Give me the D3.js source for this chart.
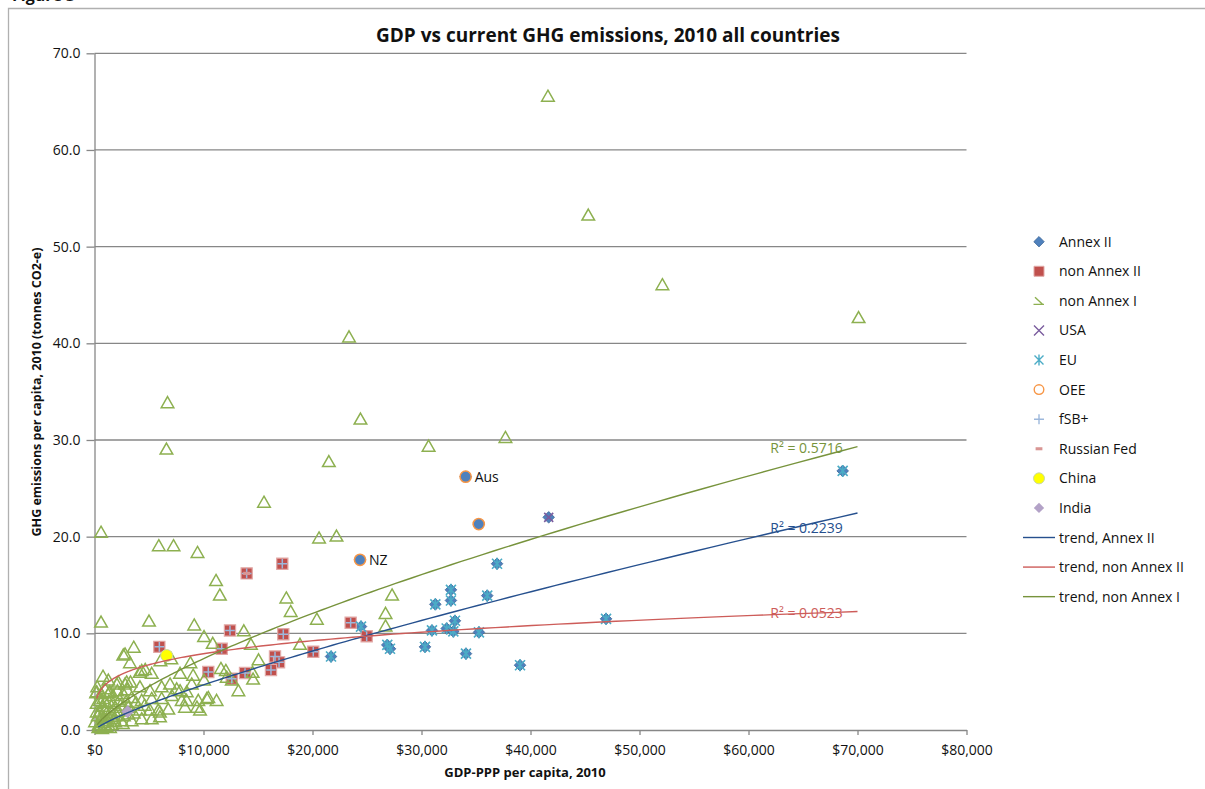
<!DOCTYPE html>
<html>
<head>
<meta charset="utf-8">
<script src="https://cdn.jsdelivr.net/npm/d3@7"></script>
<style>
  body { margin: 0; background: #fff; }
  svg { display: block; font-family: "Open Sans", Lato, sans-serif; }
</style>
</head>
<body>
<svg id="chart" width="1205" height="789"></svg>
<script>
// GDP-PPP per capita (US$, 2010) vs GHG emissions per capita (t CO2-e, 2010)

const annexII = [
  [34050, 26.2], [35250, 21.3], [24360, 17.6], [41670, 22.0], [68640, 26.8],
  [36930, 17.2], [32700, 14.5], [32700, 13.4], [31270, 13.0], [36030, 13.9],
  [24450, 10.7], [33070, 11.3], [32310, 10.5], [32920, 10.2], [30960, 10.3],
  [35270, 10.1], [46930, 11.5], [26860, 8.8], [27110, 8.4], [30320, 8.6],
  [34080, 7.9], [39040, 6.7], [21700, 7.6]
];

const nonAnnexII = [
  [13960, 16.2], [17230, 17.2], [12430, 10.3], [17320, 9.9], [11670, 8.4],
  [23500, 11.1], [24970, 9.7], [20070, 8.1], [16560, 7.6], [16930, 7.0],
  [16190, 6.2], [13810, 5.9], [10440, 6.0], [12590, 5.3], [5950, 8.6]
];

const nonAnnexI = [
  [41600, 65.6], [45300, 53.3], [52100, 46.1], [70100, 42.7], [23350, 40.7],
  [6700, 33.9], [6600, 29.1], [24400, 32.2], [30650, 29.4], [37700, 30.3],
  [21500, 27.8], [15550, 23.6], [600, 20.5], [5900, 19.1], [7250, 19.1],
  [9450, 18.4], [20600, 19.9], [22200, 20.1], [11150, 15.5], [11500, 14.0],
  [17600, 13.7], [18000, 12.3], [20400, 11.5], [27300, 14.0], [26700, 12.1],
  [26700, 10.8], [600, 11.2], [5000, 11.3], [9150, 10.9], [10050, 9.7],
  [10850, 9.0], [13700, 10.3], [14350, 8.9], [15050, 7.3], [18850, 8.9],
  [2800, 7.9], [3600, 8.6], [3250, 7.0], [7050, 7.4], [6050, 7.2],
  [8800, 7.0], [4150, 6.0], [4650, 6.3], [7850, 5.9], [9050, 5.7],
  [10050, 5.2], [11600, 6.4], [12050, 6.2], [12600, 5.2], [13200, 4.1],
  [14500, 6.0], [14550, 5.3], [10300, 3.3], [11200, 3.1], [9400, 2.4],
  [7850, 4.1], [7100, 3.6], [6000, 1.9], [8450, 3.1], [8300, 2.4],
  [12130, 5.5], [10440, 3.4], [8460, 4.0],
  [2640, 7.8], [4330, 6.2], [5250, 5.9], [1270, 5.2], [2040, 4.8],
  [2800, 4.8], [960, 4.3], [4170, 4.5], [5090, 4.1], [6160, 4.5],
  [6930, 4.8], [8920, 4.8], [7540, 4.3], [6160, 3.3], [5250, 3.3],
  [4330, 3.1], [3410, 3.4], [2640, 3.8], [1720, 3.6], [810, 3.3],
  [200, 2.8], [960, 2.2], [1880, 2.4], [3100, 2.4], [4170, 2.1],
  [5090, 2.1], [5850, 2.1], [6770, 2.2], [8000, 3.1], [9520, 3.1],
  [9680, 2.1], [6010, 1.4], [5250, 1.2], [4330, 1.2], [3410, 1.0],
  [2500, 1.0], [1580, 1.4], [660, 1.4], [50, 0.9], [960, 0.5],
  [350, 0.3], [1420, 0.3], [3100, 1.7], [1330, 3.9], [500, 3.1],
  [200, 4.0], [2180, 5.0], [2950, 5.0], [780, 5.6],
  [300, 1.5], [500, 2.0], [700, 2.5], [1100, 1.8], [1300, 3.0],
  [1500, 2.0], [1800, 1.2], [2200, 2.0], [2300, 3.2], [2700, 1.5],
  [400, 0.6], [800, 0.8], [1200, 1.0], [1600, 0.6], [2000, 1.6],
  [200, 1.9], [600, 3.8], [1000, 2.9], [1400, 4.0], [2400, 2.6],
  [3600, 1.8], [3800, 2.9], [4600, 2.6], [3000, 4.2], [500, 0.4],
  [900, 1.2], [1700, 2.8], [2100, 4.1], [2900, 3.0], [3300, 5.0],
  [150, 3.9], [250, 4.5], [700, 0.2], [1100, 0.4], [2600, 0.7], [1900, 0.9]
];

const usa = [[41670, 22.0]];

const eu = [
  [68640, 26.8], [36930, 17.2], [32700, 14.5], [32700, 13.4], [31270, 13.0],
  [36030, 13.9], [24450, 10.7], [33070, 11.3], [32310, 10.5], [32920, 10.2],
  [30960, 10.3], [35270, 10.1], [46930, 11.5], [26860, 8.8], [27110, 8.4],
  [30320, 8.6], [34080, 7.9], [39040, 6.7], [21700, 7.6]
];

const oee = [[34050, 26.2], [35250, 21.3], [24360, 17.6]];

const fsbPlus = [
  [13960, 16.2], [17230, 17.2], [12430, 10.3], [17320, 9.9], [11670, 8.4],
  [23500, 11.1], [24970, 9.7], [20070, 8.1], [16560, 7.6], [16930, 7.0],
  [16190, 6.2], [13810, 5.9], [10440, 6.0], [12590, 5.3], [5950, 8.6]
];

const russianFed = [[13960, 16.2]];
const china = [[6620, 7.7]];
const india = [[3040, 1.9]];

// Point annotations
const pointLabelNames = ["Aus", "NZ"];
const pointLabelValues = [[34050, 26.2], [24360, 17.6]];

// Power trendlines y = a * x^b
const trendNames = ["trend, Annex II", "trend, non Annex II", "trend, non Annex I"];
const trendA = [0.002762, 0.9845, 0.01076];
const trendB = [0.807, 0.226, 0.709];
const trendFrom = [350, 200, 250];
const trendTo = [70000, 70000, 70000];
const trendR2 = ["0.2239", "0.0523", "0.5716"];

// Axis ticks
const xTicks = [0, 10000, 20000, 30000, 40000, 50000, 60000, 70000, 80000];
const yTicks = [0, 10, 20, 30, 40, 50, 60, 70];

const legendNames = ["Annex II", "non Annex II", "non Annex I", "USA", "EU", "OEE",
  "fSB+", "Russian Fed", "China", "India",
  "trend, Annex II", "trend, non Annex II", "trend, non Annex I"];

// ---------- layout & style ----------
const svg = d3.select("#chart");
const plot = { left: 94.5, right: 966.5, top: 53.3, bottom: 730 };
const x = d3.scaleLinear().domain([0, 80000]).range([plot.left, plot.right]);
const y = d3.scaleLinear().domain([0, 70]).range([plot.bottom, plot.top]);

const C = {
  grid: "#878787",
  blue: "#4F81BD", blueEdge: "#3A6596",
  red: "#C0504D", redEdge: "#E2A9A7",
  green: "#8DB050",
  purple: "#7A5C9E",
  teal: "#4BACC6",
  orange: "#F79646",
  fsb: "#9DB8DC",
  russia: "#D99694",
  india: "#B3A2C7",
  trendBlue: "#26508E", trendRed: "#CD5C59", trendGreen: "#77933C"
};
const trendColors = [C.trendBlue, C.trendRed, C.trendGreen];
const textColor = "#111";

// chart area frame
svg.append("path")
  .attr("d", "M8.5,789 L8.5,8.5 L1205,8.5")
  .attr("fill", "none").attr("stroke", "#b0b0b0").attr("stroke-width", 1.3);

svg.append("text")
  .attr("x", 12).attr("y", 1)
  .attr("font-weight", "bold").attr("font-size", 16).attr("fill", textColor)
  .text("Figure 3");

// title
svg.append("text")
  .attr("x", 608).attr("y", 42)
  .attr("text-anchor", "middle")
  .attr("font-weight", "bold").attr("font-size", 19).attr("fill", textColor)
  .text("GDP vs current GHG emissions, 2010 all countries");

// gridlines
svg.append("g").selectAll("line")
  .data(yTicks.filter(d => d > 0))
  .join("line")
  .attr("x1", plot.left).attr("x2", plot.right)
  .attr("y1", d => y(d)).attr("y2", d => y(d))
  .attr("stroke", C.grid).attr("stroke-width", 1.3);

// axes
const yAxis = svg.append("g")
  .attr("transform", `translate(${plot.left},0)`)
  .call(d3.axisLeft(y).tickValues(yTicks).tickSize(8).tickSizeOuter(0)
    .tickPadding(6).tickFormat(d3.format(".1f")));
const xAxis = svg.append("g")
  .attr("transform", `translate(0,${plot.bottom})`)
  .call(d3.axisBottom(x).tickValues(xTicks).tickSize(5).tickSizeOuter(0)
    .tickPadding(10).tickFormat(d3.format("$,")));
[yAxis, xAxis].forEach(g => {
  g.select(".domain").attr("stroke", C.grid).attr("stroke-width", 1.3);
  g.selectAll(".tick line").attr("stroke", C.grid).attr("stroke-width", 1.3);
  g.selectAll(".tick text").attr("fill", textColor)
    .attr("font-size", 14).attr("font-family", "'Open Sans', Lato, sans-serif");
});

// axis titles
svg.append("text")
  .attr("x", 525).attr("y", 777)
  .attr("text-anchor", "middle").attr("font-weight", "bold")
  .attr("font-size", 13).attr("fill", textColor)
  .text("GDP-PPP per capita, 2010");
svg.append("text")
  .attr("transform", "translate(41,392) rotate(-90)")
  .attr("text-anchor", "middle").attr("font-weight", "bold")
  .attr("font-size", 12.5).attr("fill", textColor)
  .text("GHG emissions per capita, 2010 (tonnes CO2-e)");

// ---------- marker shapes ----------
const shapes = {
  diamond: (s) => `M0,${-s}L${s},0L0,${s}L${-s},0Z`,
  square: (s) => `M${-s},${-s}H${s}V${s}H${-s}Z`,
  triangle: (s) => `M0,${-s * 0.9}L${s},${s * 0.85}L${-s},${s * 0.85}Z`,
  cross: (s) => `M${-s},${-s}L${s},${s}M${-s},${s}L${s},${-s}`,
  asterisk: (s) => `M${-s},${-s}L${s},${s}M${-s},${s}L${s},${-s}M0,${-s * 1.2}V${s * 1.2}`,
  plus: (s) => `M${-s},0H${s}M0,${-s}V${s}`,
  dash: (s) => `M${-s},${-s * 0.45}H${s}V${s * 0.45}H${-s}Z`
};

function drawMarkers(data, path, attrs) {
  const g = svg.append("g");
  const sel = g.selectAll("path").data(data).join("path")
    .attr("transform", d => `translate(${x(d[0])},${y(d[1])})`)
    .attr("d", path);
  Object.entries(attrs).forEach(([k, v]) => sel.attr(k, v));
  return g;
}

const series = [
  { data: annexII, d: shapes.diamond(5.8), a: { fill: C.blue, stroke: C.blueEdge, "stroke-width": 0.8 } },
  { data: nonAnnexII, d: shapes.square(5.6), a: { fill: C.red, stroke: C.redEdge, "stroke-width": 1.2 } },
  { data: nonAnnexI, d: shapes.triangle(6.3), a: { fill: "none", stroke: C.green, "stroke-width": 1.5 } },
  { data: usa, d: shapes.cross(4.5), a: { fill: "none", stroke: C.purple, "stroke-width": 1.6 } },
  { data: eu, d: shapes.asterisk(5), a: { fill: "none", stroke: C.teal, "stroke-width": 1.6 } },
  { data: oee, d: null, a: {} },
  { data: fsbPlus, d: shapes.plus(4.8), a: { fill: "none", stroke: C.fsb, "stroke-width": 1.5 } },
  { data: russianFed, d: shapes.dash(3.5), a: { fill: C.russia, stroke: "none" } },
  { data: china, d: null, a: {} },
  { data: india, d: shapes.diamond(6), a: { fill: C.india, stroke: "#A594BC", "stroke-width": 0.8 } }
];

series.forEach((s, i) => {
  if (i === 5) {
    svg.append("g").selectAll("circle").data(s.data).join("circle")
      .attr("cx", d => x(d[0])).attr("cy", d => y(d[1])).attr("r", 5.6)
      .attr("fill", C.blue).attr("stroke", C.orange).attr("stroke-width", 1.5);
  } else if (i === 8) {
    svg.append("g").selectAll("circle").data(s.data).join("circle")
      .attr("cx", d => x(d[0])).attr("cy", d => y(d[1])).attr("r", 6)
      .attr("fill", "#FFFF00").attr("stroke", "#C9D8A8").attr("stroke-width", 1);
  } else {
    drawMarkers(s.data, s.d, s.a);
  }
});

// point annotations
svg.append("g").selectAll("text").data(pointLabelValues).join("text")
  .attr("x", d => x(d[0]) + 9).attr("y", d => y(d[1]) + 5)
  .attr("font-size", 14).attr("fill", textColor)
  .text((d, i) => pointLabelNames[i]);

// ---------- trendlines ----------
const lineGen = d3.line().x(d => x(d[0])).y(d => y(d[1]));
trendNames.forEach((name, i) => {
  const xs = d3.range(0, 201).map(k => {
    const t = k / 200;
    return trendFrom[i] * Math.pow(trendTo[i] / trendFrom[i], t);
  });
  const pts = xs.map(v => [v, trendA[i] * Math.pow(v, trendB[i])]);
  svg.append("path")
    .attr("d", lineGen(pts))
    .attr("fill", "none").attr("stroke", trendColors[i]).attr("stroke-width", 1.4);
});

// R² annotations
const r2LabelY = [20.9, 12.1, 29.2];
trendR2.forEach((r, i) => {
  svg.append("text")
    .attr("x", x(62000)).attr("y", y(r2LabelY[i]) + 5)
    .attr("font-size", 14).attr("fill", trendColors[i])
    .text(`R² = ${r}`);
});

// ---------- legend ----------
const lg = svg.append("g");
const lgX = 1039, lgText = 1059, lgY0 = 241.7, lgStep = 29.58;
legendNames.forEach((name, i) => {
  const cy = lgY0 + i * lgStep;
  const g = lg.append("g").attr("transform", `translate(${lgX},${cy})`);
  if (i === 0) g.append("path").attr("d", shapes.diamond(5.2)).attr("fill", C.blue).attr("stroke", C.blueEdge).attr("stroke-width", 0.8);
  if (i === 1) g.append("path").attr("d", shapes.square(5)).attr("fill", C.red).attr("stroke", C.redEdge).attr("stroke-width", 1);
  if (i === 2) g.append("path").attr("d", "M-4,-3.5L3.5,3.5M-5.5,3.5H5").attr("fill", "none").attr("stroke", C.green).attr("stroke-width", 1.4);
  if (i === 3) g.append("path").attr("d", shapes.cross(5)).attr("fill", "none").attr("stroke", C.purple).attr("stroke-width", 1.4);
  if (i === 4) g.append("path").attr("d", shapes.asterisk(4.5)).attr("fill", "none").attr("stroke", C.teal).attr("stroke-width", 1.4);
  if (i === 5) g.append("circle").attr("r", 4.8).attr("fill", "#fff").attr("stroke", C.orange).attr("stroke-width", 1.4);
  if (i === 6) g.append("path").attr("d", shapes.plus(5)).attr("fill", "none").attr("stroke", C.fsb).attr("stroke-width", 1.4);
  if (i === 7) g.append("path").attr("d", shapes.dash(3.4)).attr("fill", C.russia);
  if (i === 8) g.append("circle").attr("r", 5.5).attr("fill", "#FFFF00").attr("stroke", "#C9D8A8").attr("stroke-width", 1);
  if (i === 9) g.append("path").attr("d", shapes.diamond(5.2)).attr("fill", C.india);
  if (i >= 10) g.append("line").attr("x1", -16).attr("x2", 16).attr("stroke", trendColors[i - 10]).attr("stroke-width", 1.4);
  lg.append("text")
    .attr("x", lgText).attr("y", cy + 5)
    .attr("font-size", 14).attr("fill", textColor)
    .text(name);
});
</script>
</body>
</html>
